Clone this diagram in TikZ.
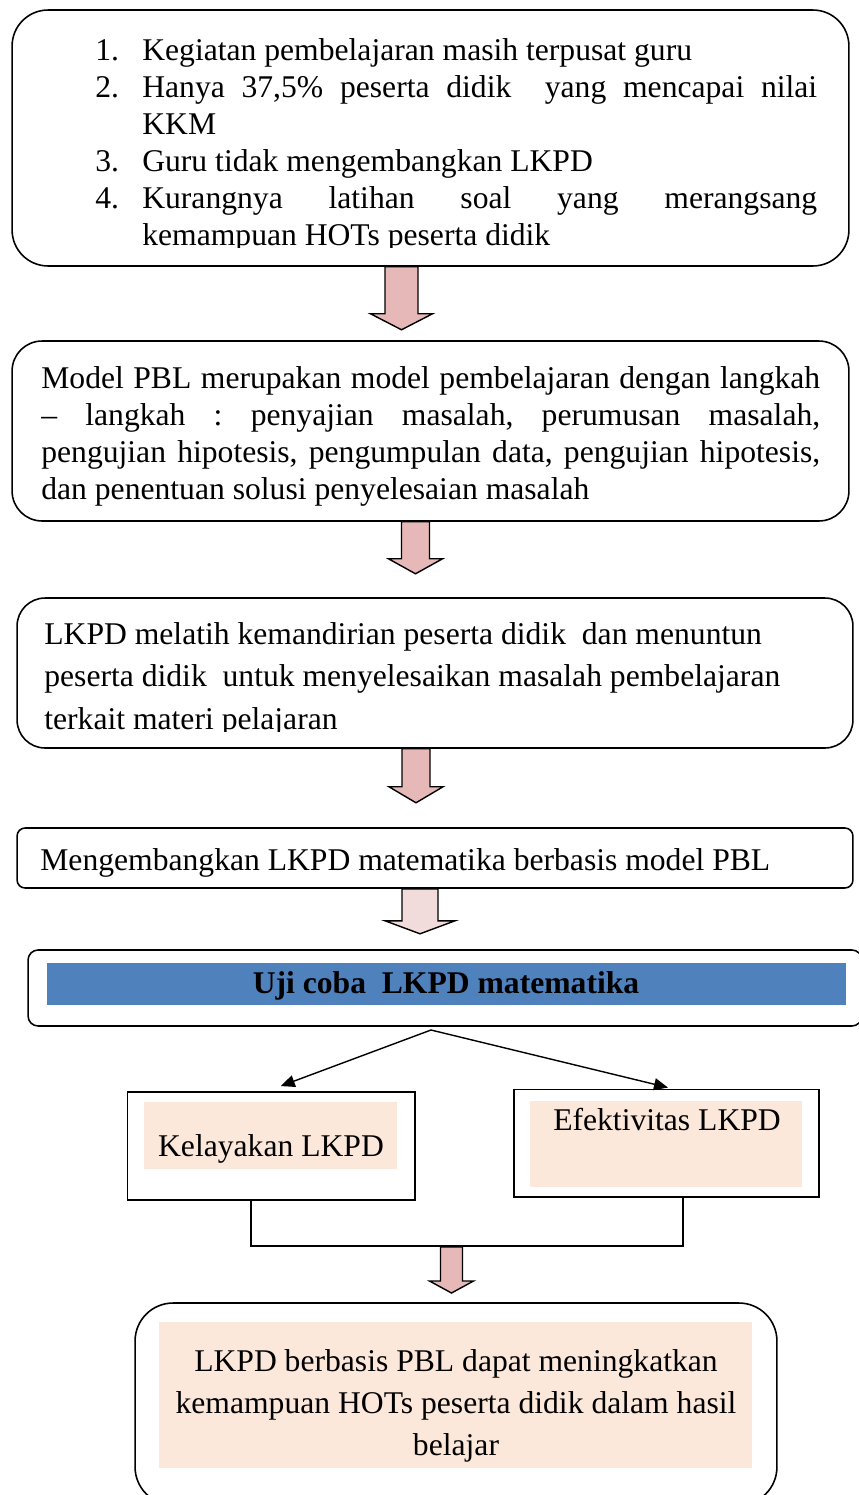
\documentclass[tikz,border=0pt]{standalone}
\usepackage{fontspec}
\setmainfont{Liberation Serif}
\usetikzlibrary{calc,arrows.meta,positioning}

\definecolor{arrowpink}{HTML}{E6B9B8}
\definecolor{arrowlight}{HTML}{F2DCDB}
\definecolor{peach}{HTML}{FCE8DA}
\definecolor{barblue}{HTML}{4F81BD}

\frenchspacing
% numbered line with hanging indent
\newcommand{\probitem}[2]{\noindent\hangindent=0.94cm\hangafter=1\makebox[0.94cm][l]{#1}#2\par}
% fat down arrow: [fill]{start}{x offset}{length}{shaft half}{head half}{shaft length}
\newcommand{\blockarrow}[7][arrowpink]{%
  \draw[line width=0.8pt, fill=#1] ($(#2)+(#3-#5,0)$) -- ++(0,#7) -- ++(#5-#6,0)
    -- ++(#6,#4-#7) -- ++(#6,#7-#4) -- ++(#5-#6,0) -- ++(0,-#7) -- cycle;}

\begin{document}
\begin{tikzpicture}[
  x=0.02cm, y=-0.02cm,
  rbox/.style={draw, line width=0.9pt, rounded corners=#1, inner sep=0pt},
  sbox/.style={draw, line width=1.1pt, inner sep=0pt},
  shade/.style={fill=peach, inner sep=0pt},
  txt/.style={inner sep=0pt, font=\fontsize{18}{21}\selectfont},
  thinarr/.style={-{Triangle[length=0.28cm,width=0.24cm]}, line width=0.8pt},
  joinline/.style={line width=0.7pt}
]
  \useasboundingbox (0,0) rectangle (859,1495);

  % boxes
  \node[rbox=0.72cm, minimum width=16.74cm, minimum height=5.12cm] (masalah) at (430.5,138) {};
  \node[rbox=0.6cm, minimum width=16.74cm, minimum height=3.6cm] (model) at (430.5,431) {};
  \node[rbox=0.56cm, minimum width=16.72cm, minimum height=3cm] (lkpd) at (435,673) {};
  \node[rbox=0.16cm, minimum width=16.72cm, minimum height=1.2cm] (kembang) at (435,858) {};
  \node[rbox=0.2cm, minimum width=16.68cm, minimum height=1.52cm] (ujicoba) at (445,988) {};
  \node[sbox, minimum width=5.75cm, minimum height=2.16cm] (layak) at (271.25,1146) {};
  \node[sbox, minimum width=6.1cm, minimum height=2.15cm] (efektif) at (666.5,1143.25) {};
  \node[rbox=0.76cm, minimum width=12.84cm, minimum height=4.04cm] (hasil) at (456,1404) {};

  % fills
  \node[fill=barblue, inner sep=0pt, minimum width=15.98cm, minimum height=0.85cm] (bar) at (446.5,984) {};
  \node[shade, minimum width=5.06cm, minimum height=1.34cm] (layakfill) at (270.5,1135.5) {};
  \node[shade, minimum width=5.44cm, minimum height=1.72cm] (efektiffill) at (666,1144) {};
  \node[shade, minimum width=11.86cm, minimum height=2.92cm] (hasilfill) at (455.5,1395) {};

  % texts
  \begin{scope}
    \clip (0,0) rectangle (859,247);
    \node[txt, text width=14.44cm, align=justify, anchor=north west] (masalahtxt) at (95,38.5) {%
      \probitem{1.}{Kegiatan pembelajaran masih terpusat guru}
      \probitem{2.}{Hanya 37,5\% peserta didik~ yang mencapai nilai\linebreak KKM}
      \probitem{3.}{Guru tidak mengembangkan LKPD}
      \probitem{4.}{Kurangnya latihan soal yang merangsang\linebreak kemampuan HOTs peserta didik}};
  \end{scope}
  \node[txt, text width=15.58cm, align=justify, anchor=north west] (modeltxt) at (41,366.4) {%
    Model PBL merupakan model pembelajaran dengan langkah\linebreak
    -- langkah : penyajian masalah, perumusan masalah,\linebreak
    pengujian hipotesis, pengumpulan data, pengujian hipotesis,\linebreak
    dan penentuan solusi penyelesaian masalah};
  \begin{scope}
    \clip (0,580) rectangle (859,731);
    \node[txt, font=\fontsize{18}{24}\selectfont, align=left, anchor=north west] (lkpdtxt) at (44,622.4)
      {LKPD melatih kemandirian peserta didik~ dan menuntun\\
       peserta didik~ untuk menyelesaikan masalah pembelajaran\\
       terkait materi pelajaran};
  \end{scope}
  \node[txt, anchor=base west] (kembangtxt) at (40,870) {Mengembangkan LKPD matematika berbasis model PBL};
  \node[txt, font=\bfseries\fontsize{18}{21}\selectfont, anchor=base] (ujitxt) at (446,993) {Uji coba~ LKPD matematika};
  \node[txt, anchor=base] (layaktxt) at (271,1156) {Kelayakan LKPD};
  \node[txt, anchor=base] (efektiftxt) at (667,1130) {Efektivitas LKPD};
  \node[txt, font=\fontsize{18}{24}\selectfont, align=center, anchor=north] (hasiltxt) at (456,1349)
    {LKPD berbasis PBL dapat meningkatkan\\
     kemampuan HOTs peserta didik dalam hasil\\
     belajar};

  % fat arrows
  \blockarrow{masalah.south}{-29}{63}{16.5}{31}{47}
  \blockarrow{model.south}{-15}{52}{14}{27}{37}
  \blockarrow{lkpd.south}{-19}{54}{14}{27}{38}
  \blockarrow[arrowlight]{kembang.south}{-15}{45}{18}{35}{32}

  % split and join
  \coordinate (split) at (431,1030);
  \draw[thinarr] (split) -- ($(layak.north)+(9.5,-5)$);
  \draw[thinarr] (split) -- ($(efektif.north)+(1.5,-1)$);

  \coordinate (joinl) at (251,1246);
  \coordinate (joinr) at (683,1246);
  \coordinate (joinm) at (451.5,1247);
  \draw[joinline] (layak.south -| joinl) -- (joinl) -- (joinr) -- (efektif.south -| joinr);
  \blockarrow{joinm}{0}{46}{11}{22}{34}
\end{tikzpicture}
\end{document}
